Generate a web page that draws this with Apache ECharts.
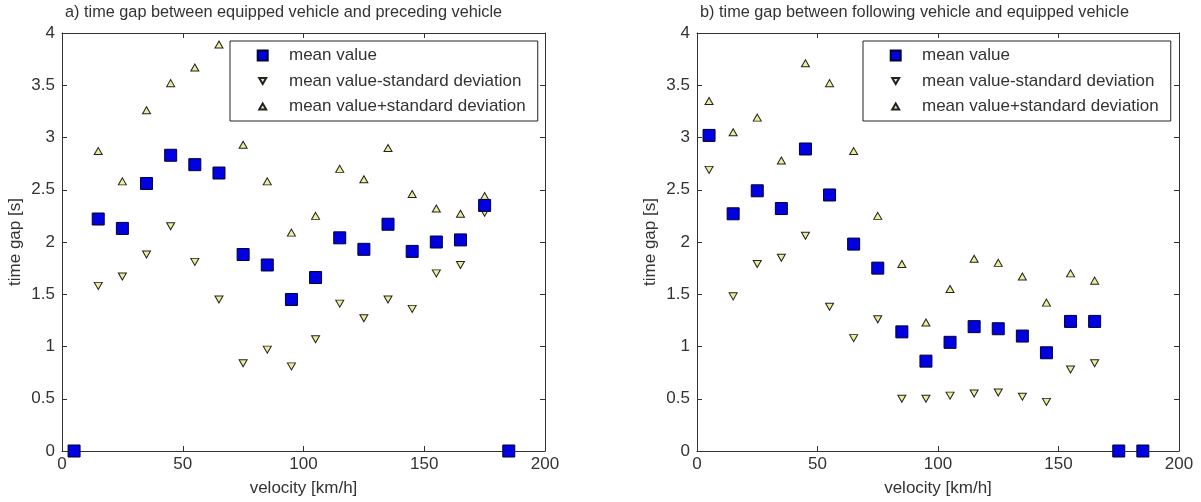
<!DOCTYPE html>
<html>
<head>
<meta charset="utf-8">
<script src="https://cdn.jsdelivr.net/npm/echarts@6/dist/echarts.min.js"></script>
<style>
html,body{margin:0;padding:0;background:#fff;}
#chart{width:1201px;height:502px;}
</style>
</head>
<body>
<div id="chart"></div>
<script>
// ---- data ----
const velocity = [5, 15, 25, 35, 45, 55, 65, 75, 85, 95, 105, 115, 125, 135, 145, 155, 165, 175, 185];
const leftMean  = [0, 2.22, 2.13, 2.56, 2.83, 2.74, 2.66, 1.88, 1.78, 1.45, 1.66, 2.04, 1.93, 2.17, 1.91, 2.00, 2.02, 2.35, 0];
const leftLower = [null, 1.58, 1.67, 1.88, 2.15, 1.81, 1.45, 0.84, 0.97, 0.81, 1.07, 1.41, 1.27, 1.45, 1.36, 1.70, 1.78, 2.28, null];
const leftUpper = [null, 2.87, 2.58, 3.26, 3.52, 3.67, 3.89, 2.93, 2.58, 2.09, 2.25, 2.70, 2.60, 2.90, 2.46, 2.32, 2.27, 2.44, null];
const rightMean  = [3.02, 2.27, 2.49, 2.32, 2.89, 2.45, 1.98, 1.75, 1.14, 0.86, 1.04, 1.19, 1.17, 1.10, 0.94, 1.24, 1.24, 0, 0];
const rightLower = [2.69, 1.48, 1.79, 1.85, 2.06, 1.38, 1.08, 1.26, 0.50, 0.50, 0.53, 0.55, 0.56, 0.52, 0.47, 0.78, 0.84, null, null];
const rightUpper = [3.35, 3.05, 3.19, 2.78, 3.71, 3.52, 2.87, 2.25, 1.79, 1.23, 1.55, 1.84, 1.80, 1.67, 1.42, 1.70, 1.63, null, null];
const titles = ['a) time gap between equipped vehicle and preceding vehicle',
                'b) time gap between following vehicle and equipped vehicle'];
const seriesNames = ['mean value', 'mean value-standard deviation', 'mean value+standard deviation'];
const xName = 'velocity [km/h]';
const yName = 'time gap [s]';

// ---- helpers ----
function pairs(vals) {
  const out = [];
  vals.forEach((v, i) => { if (v !== null) out.push([velocity[i], v]); });
  return out;
}
const FONT = 'Liberation Sans, Arial, sans-serif';
const TXT = '#333';
const AX = '#333';
const grids = [
  {left: 62, top: 33, width: 483, height: 420},
  {left: 697, top: 33, width: 482, height: 420}
];

const xAxes = [], yAxes = [];
grids.forEach((g, gi) => {
  xAxes.push({
    type: 'value', gridIndex: gi, min: 0, max: 200, interval: 50, position: 'bottom',
    name: xName, nameLocation: 'middle', nameGap: 29,
    nameTextStyle: {fontSize: 17, color: TXT, fontFamily: FONT},
    axisLine: {onZero: false, lineStyle: {color: AX, width: 1}},
    axisTick: {inside: true, length: 5, lineStyle: {color: AX}},
    axisLabel: {fontSize: 17, color: TXT, fontFamily: FONT, margin: 5},
    splitLine: {show: false}
  });
  xAxes.push({
    type: 'value', gridIndex: gi, min: 0, max: 200, interval: 50, position: 'top',
    axisLine: {onZero: false, lineStyle: {color: AX, width: 1}},
    axisTick: {inside: true, length: 5, lineStyle: {color: AX}},
    axisLabel: {show: false}, splitLine: {show: false}
  });
  yAxes.push({
    type: 'value', gridIndex: gi, min: 0, max: 4, interval: 0.5, position: 'left',
    name: yName, nameLocation: 'middle', nameGap: 38,
    nameTextStyle: {fontSize: 17, color: TXT, fontFamily: FONT},
    axisLine: {show: true, onZero: false, lineStyle: {color: AX, width: 1}},
    axisTick: {show: true, inside: true, length: 5, lineStyle: {color: AX}},
    axisLabel: {fontSize: 17, color: TXT, fontFamily: FONT, margin: 7},
    splitLine: {show: false}
  });
  yAxes.push({
    type: 'value', gridIndex: gi, min: 0, max: 4, interval: 0.5, position: 'right',
    axisLine: {show: true, onZero: false, lineStyle: {color: AX, width: 1}},
    axisTick: {show: true, inside: true, length: 5, lineStyle: {color: AX}},
    axisLabel: {show: false}, splitLine: {show: false}
  });
});

const meanStyle = {color: '#0000e0', borderColor: '#000033', borderWidth: 1, opacity: 1};
const triStyle = {color: '#eeee99', borderColor: '#222', borderWidth: 1, opacity: 1};

const series = [];
[[leftMean, leftLower, leftUpper], [rightMean, rightLower, rightUpper]].forEach((set, gi) => {
  series.push({
    name: seriesNames[1], type: 'scatter', xAxisIndex: gi * 2, yAxisIndex: gi * 2,
    data: pairs(set[1]), symbol: 'triangle', symbolRotate: 180, symbolSize: [8, 7],
    itemStyle: triStyle, z: 2, clip: false, silent: true
  });
  series.push({
    name: seriesNames[2], type: 'scatter', xAxisIndex: gi * 2, yAxisIndex: gi * 2,
    data: pairs(set[2]), symbol: 'triangle', symbolSize: [8, 7],
    itemStyle: triStyle, z: 2, clip: false, silent: true
  });
  series.push({
    name: seriesNames[0], type: 'scatter', xAxisIndex: gi * 2, yAxisIndex: gi * 2,
    data: pairs(set[0]), symbol: 'rect', symbolSize: 12,
    itemStyle: meanStyle, z: 3, clip: false, silent: true
  });
});

const icons = [
  'path://M0,0M40,17M13.7,3.5L23.7,3.5L23.7,13.5L13.7,13.5Z',
  'path://M0,0M40,17M15.2,5.5L22.2,5.5L18.7,11.5Z',
  'path://M0,0M40,17M15.2,11.5L22.2,11.5L18.7,5.5Z'
];
function legendAt(left) {
  return {
    orient: 'vertical', left: left, top: 41,
    padding: [5, 12, 5, 13],
    borderColor: '#222', borderWidth: 1, backgroundColor: '#fff',
    itemWidth: 40, itemHeight: 17, itemGap: 6.5,
    selectedMode: false,
    textStyle: {fontSize: 17, color: TXT, fontFamily: FONT, lineHeight: 17},
    data: seriesNames.map((n, i) => ({name: n, icon: icons[i]}))
  };
}

const option = {
  backgroundColor: '#fff',
  animation: false,
  title: [
    {text: titles[0], left: 65, top: 5, padding: 0,
     textStyle: {fontSize: 16.3, fontWeight: 'normal', color: TXT, fontFamily: FONT}},
    {text: titles[1], left: 700, top: 5, padding: 0,
     textStyle: {fontSize: 16.3, fontWeight: 'normal', color: TXT, fontFamily: FONT}}
  ],
  legend: [legendAt(230), legendAt(863)],
  grid: grids,
  xAxis: xAxes,
  yAxis: yAxes,
  series: series
};
const chart = echarts.init(document.getElementById('chart'), null, {renderer: 'canvas'});
chart.setOption(option);
</script>
</body>
</html>
